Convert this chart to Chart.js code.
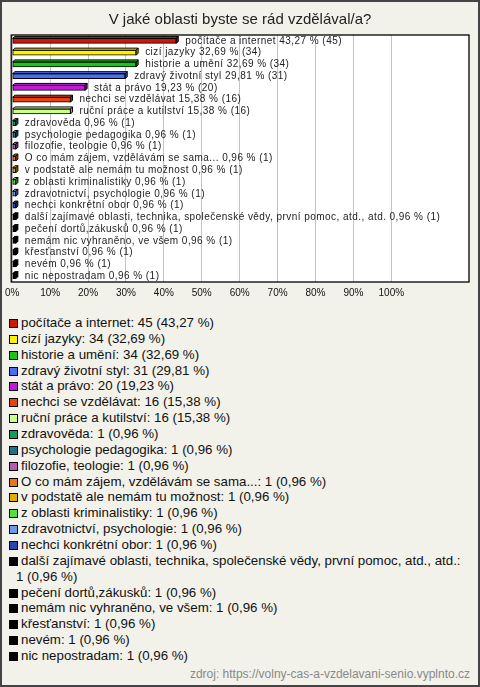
<!DOCTYPE html>
<html><head><meta charset="utf-8">
<script src="https://cdn.jsdelivr.net/npm/chart.js@4/dist/chart.umd.min.js"></script>
<style>
html,body{margin:0;padding:0;}
body{width:480px;height:687px;background:#f3f2ea;position:relative;overflow:hidden;font-family:"Liberation Sans",Arial,sans-serif;}
#frame{position:absolute;left:0;top:0;width:476px;height:683px;border:2px solid #444;pointer-events:none;}
#wrap{position:absolute;left:0;top:0;width:480px;height:310px;}
#legend{position:absolute;left:0;top:315px;width:472px;font-size:13.3px;line-height:15.86px;color:#111;}
.item{padding-left:16px;}
.sw{display:inline-block;width:7px;height:7px;border:1px solid #000;margin-left:-7px;margin-right:3px;vertical-align:-1px;}
#src{position:absolute;right:10px;top:667px;font-size:12px;color:#888;}
</style>
</head><body>
<div id="wrap"><canvas id="c" width="480" height="310"></canvas></div>
<div id="legend"></div>
<div id="src"></div>
<div id="frame"></div>
<script>
const title = 'V jaké oblasti byste se rád vzdělával/a?';
const categories = [
  'počítače a internet', 'cizí jazyky', 'historie a umění', 'zdravý životní styl', 'stát a právo',
  'nechci se vzdělávat', 'ruční práce a kutilství', 'zdravověda', 'psychologie pedagogika', 'filozofie, teologie',
  'O co mám zájem, vzdělávám se sama...', 'v podstatě ale nemám tu možnost', 'z oblasti kriminalistiky', 'zdravotnictví, psychologie', 'nechci konkrétní obor',
  'další zajímavé oblasti, technika, společenské vědy, první pomoc, atd., atd.', 'pečení dortů,zákusků', 'nemám nic vyhraněno, ve všem', 'křesťanství', 'nevém',
  'nic nepostradam'
];
const counts = [45, 34, 34, 31, 20, 16, 16, 1, 1, 1, 1, 1, 1, 1, 1, 1, 1, 1, 1, 1, 1];
const percents = [43.27, 32.69, 32.69, 29.81, 19.23, 15.38, 15.38, 0.96, 0.96, 0.96, 0.96, 0.96, 0.96, 0.96, 0.96, 0.96, 0.96, 0.96, 0.96, 0.96, 0.96];
const colors = ['#c8190b', '#fff000', '#1ec41e', '#4a6ff0', '#c21ad6', '#e8420e', '#ccff88', '#139a5e', '#1a7487', '#b75ab9',
  '#e57a12', '#e0b000', '#55e03a', '#6b9be0', '#2748a8', '#000000', '#000000', '#000000', '#000000', '#000000', '#000000'];
const xTicks = [0, 10, 20, 30, 40, 50, 60, 70, 80, 90, 100];
const source = 'zdroj: https://volny-cas-a-vzdelavani-senio.vyplnto.cz';
</script>
<script>
const fmt = v => v.toFixed(2).replace('.', ',');
document.getElementById('src').textContent = source;
const leg = document.getElementById('legend');
categories.forEach((c, i) => {
  const d = document.createElement('div');
  d.className = 'item';
  const s = document.createElement('span');
  s.className = 'sw';
  s.style.background = colors[i];
  d.appendChild(s);
  d.appendChild(document.createTextNode(c + ': ' + (counts[i] + ' (' + fmt(percents[i]) + ' %)').replace(/ /g, '\u00a0')));
  leg.appendChild(d);
});

function shade(hex, f) {
  const n = parseInt(hex.slice(1), 16);
  let r = (n >> 16) & 255, g = (n >> 8) & 255, b = n & 255;
  r = Math.round(r * f); g = Math.round(g * f); b = Math.round(b * f);
  return 'rgb(' + r + ',' + g + ',' + b + ')';
}

const boxPlugin = {
  id: 'box',
  beforeDraw(chart) {
    const a = chart.chartArea, c = chart.ctx;
    c.save(); c.fillStyle = '#fff';
    c.fillRect(a.left - 1, a.top, a.right - a.left + 1, a.bottom - a.top);
    c.restore();
  },
  afterDraw(chart) {
    const a = chart.chartArea, c = chart.ctx;
    c.save(); c.strokeStyle = '#000'; c.lineWidth = 1.3;
    c.strokeRect(a.left - 1, a.top, a.right - a.left + 1, a.bottom - a.top);
    c.restore();
  }
};

const bar3d = {
  id: 'bar3d',
  afterDatasetsDraw(chart) {
    const c = chart.ctx, meta = chart.getDatasetMeta(0);
    const dx = 2, dy = 2;
    c.save();
    meta.data.forEach((el, i) => {
      const p = el.getProps(['x', 'y', 'base', 'height'], true);
      const top = p.y - p.height / 2, bot = p.y + p.height / 2;
      c.lineWidth = 1; c.strokeStyle = '#000';
      c.beginPath();
      c.moveTo(p.base, top); c.lineTo(p.base + dx, top - dy); c.lineTo(p.x + dx, top - dy); c.lineTo(p.x, top); c.closePath();
      c.fillStyle = colors[i]; c.fill(); c.stroke();
      c.beginPath();
      c.moveTo(p.x, top); c.lineTo(p.x + dx, top - dy); c.lineTo(p.x + dx, bot - dy); c.lineTo(p.x, bot); c.closePath();
      c.fillStyle = shade(colors[i], 0.7); c.fill(); c.stroke();
      c.font = '10px "Liberation Sans", Arial, sans-serif';
      try { c.letterSpacing = '0.45px'; } catch (e) {}
      c.fillStyle = '#222'; c.textBaseline = 'middle'; c.textAlign = 'left';
      c.fillText(categories[i] + ' ' + fmt(percents[i]) + ' % (' + counts[i] + ')', p.x + 9, p.y);
    });
    c.restore();
  }
};

Chart.defaults.font.family = '"Liberation Sans", Arial, sans-serif';
new Chart(document.getElementById('c'), {
  type: 'bar',
  data: {
    labels: categories,
    datasets: [{
      data: percents,
      backgroundColor: colors,
      borderColor: '#000',
      borderWidth: 1,
      borderSkipped: false,
      barThickness: 5
    }]
  },
  options: {
    indexAxis: 'y',
    responsive: false,
    animation: false,
    layout: { padding: { left: 11, right: 11, top: 0, bottom: 6 } },
    plugins: {
      legend: { display: false },
      tooltip: { enabled: false },
      title: { display: true, text: title, color: '#222', font: { size: 15, weight: 'normal' }, padding: { top: 11, bottom: 6 } }
    },
    scales: {
      x: {
        min: 0, max: 120.5,
        afterBuildTicks: ax => { ax.ticks = xTicks.map(v => ({ value: v })); },
        ticks: { callback: v => v + '%', color: '#111', font: { size: 10 }, padding: 5, maxRotation: 0, autoSkip: false },
        grid: { color: '#c4c4c4', drawTicks: false },
        border: { display: false }
      },
      y: { display: false, grid: { display: false } }
    }
  },
  plugins: [boxPlugin, bar3d]
});
</script>
</body></html>
